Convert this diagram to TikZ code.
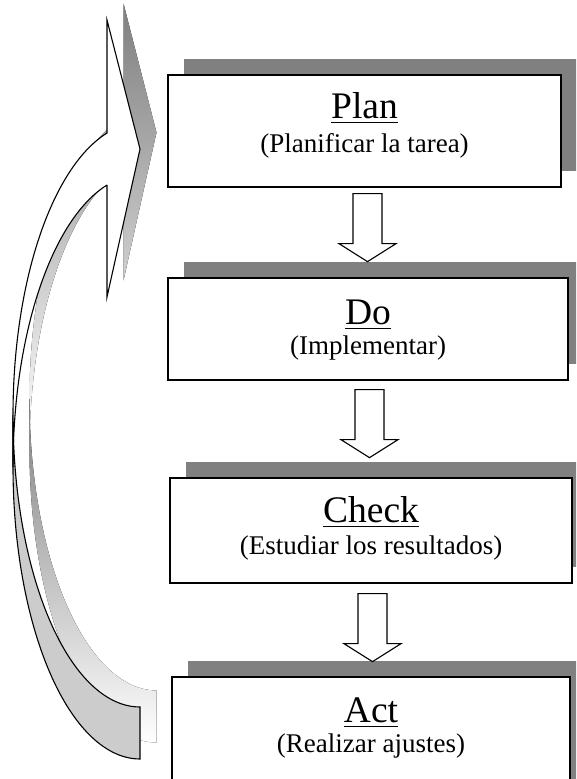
\documentclass[tikz,border=0pt]{standalone}
\usepackage{fontspec}
\setmainfont{Liberation Serif}
\usetikzlibrary{shadows}
\definecolor{shade}{HTML}{808080}
\definecolor{tailgray}{HTML}{CCCCCC}
\newcommand\myul[1]{\setbox0\hbox{#1}\rlap{\rule[-5pt]{\wd0}{1.8pt}}\box0}
\begin{document}
\begin{tikzpicture}[x=1pt,y=-1pt,
  box/.style={draw=black, line width=1.3pt, fill=white, rectangle, inner sep=0pt,
    general shadow={fill=shade, shadow xshift=15.5pt, shadow yshift=16.5pt}},
  titletext/.style={anchor=base, inner sep=0pt, font=\fontsize{37.5pt}{40pt}\selectfont},
  subtext/.style={anchor=base, inner sep=0pt, font=\fontsize{27pt}{30pt}\selectfont},
  blockline/.style={draw=black, line width=1.1pt, fill=white, line join=miter},
  downarrow/.pic={\path[blockline] (-14.5,0) -- (-14.5,50) -- (-28.5,50) -- (0,68) -- (28.5,50) -- (14.5,50) -- (14.5,0) -- cycle;},
  curveline/.style={draw=black, line width=1.1pt, line join=miter}
]
\useasboundingbox (0,0) rectangle (576,779);
\clip (0,0) rectangle (576,779);

% shadow of the curved arrow
\begin{scope}[shift={(16.5,-16.5)}]
  \fill[shade] plot[domain=180:254.94,samples=60,variable=\t] ({140+127*cos(\t)},{415+292*sin(\t)})
    -- (107,20) -- (140,149) -- (107,297) -- (107,185)
    -- plot[domain=254.94:180,samples=60,variable=\t] ({140+127*cos(\t)},{467+292*sin(\t)}) -- cycle;
  \fill[shade] plot[domain=90:180,samples=60,variable=\t] ({140+127*cos(\t)},{415+292*sin(\t)})
    -- (13,467)
    -- plot[domain=180:90,samples=60,variable=\t] ({140+127*cos(\t)},{467+292*sin(\t)}) -- cycle;
\end{scope}

% curved arrow: tail part
\path[curveline, fill=tailgray] plot[domain=90:180,samples=60,variable=\t] ({140+127*cos(\t)},{415+292*sin(\t)})
  -- (13,467)
  -- plot[domain=180:90,samples=60,variable=\t] ({140+127*cos(\t)},{467+292*sin(\t)}) -- cycle;
% curved arrow: body and head
\path[curveline, fill=white] plot[domain=180:254.94,samples=60,variable=\t] ({140+127*cos(\t)},{415+292*sin(\t)})
  -- (107,20) -- (140,149) -- (107,297) -- (107,185)
  -- plot[domain=254.94:180,samples=60,variable=\t] ({140+127*cos(\t)},{467+292*sin(\t)}) -- cycle;

% boxes
\node[box, minimum width=393pt, minimum height=112pt] (plan) at (364.5,131) {};
\node[box, minimum width=400pt, minimum height=102pt] (do) at (368,329) {};
\node[box, minimum width=402pt, minimum height=105pt] (check) at (371,530.5) {};
\node[box, minimum width=398pt, minimum height=130pt] (act) at (371,742) {};

% texts
\node[titletext] (plant) at ([yshift=-44pt]plan.north) {\myul{Plan}};
\node[subtext] (plans) at ([yshift=-78pt]plan.north) {(Planificar la tarea)};
\node[titletext] (dot) at ([yshift=-47pt]do.north) {\myul{Do}};
\node[subtext] (dos) at ([yshift=-77pt]do.north) {(Implementar)};
\node[titletext] (checkt) at ([yshift=-45pt]check.north) {\myul{Check}};
\node[subtext] (checks) at ([yshift=-77pt]check.north) {(Estudiar los resultados)};
\node[titletext] (actt) at ([yshift=-46pt]act.north) {\myul{Act}};
\node[subtext] (acts) at ([yshift=-76pt]act.north) {(Realizar ajustes)};

% block arrows between boxes
\pic at ([xshift=3pt,yshift=-6pt]plan.south) {downarrow};
\pic at ([xshift=1.5pt,yshift=-9pt]do.south) {downarrow};
\pic at ([xshift=1.5pt,yshift=-10pt]check.south) {downarrow};
\end{tikzpicture}
\end{document}
